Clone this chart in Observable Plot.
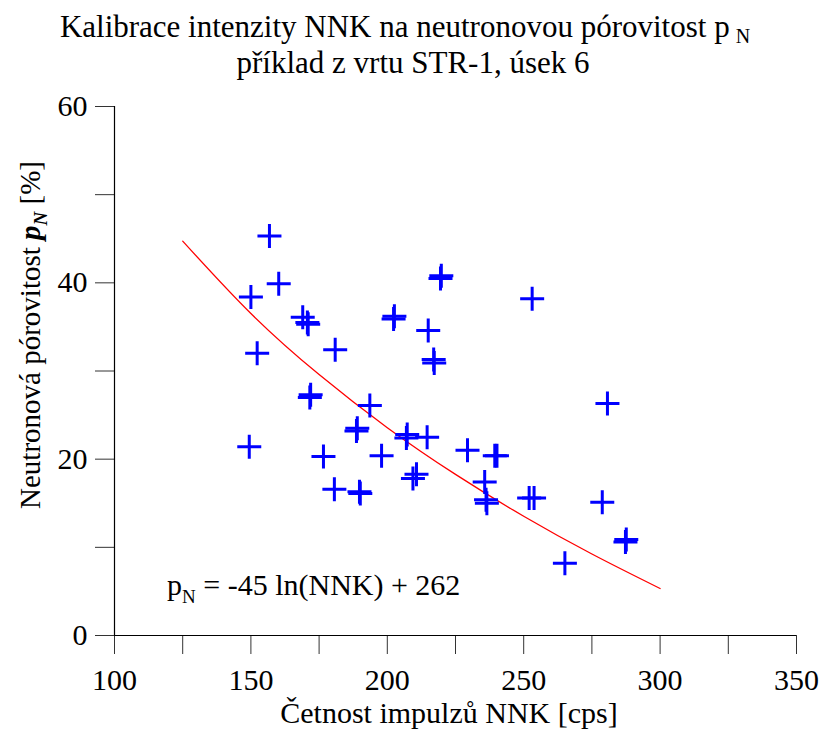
<!DOCTYPE html>
<html>
<head>
<meta charset="utf-8">
<script src="https://cdn.jsdelivr.net/npm/d3@7"></script>
<script src="https://cdn.jsdelivr.net/npm/@observablehq/plot@0.6"></script>
<style>
  html, body { margin: 0; padding: 0; background: #fff; }
  #chart svg { display: block; }
  #chart svg, #chart svg text, #chart svg tspan { font-family: "Liberation Serif", "Times New Roman", serif; }
</style>
</head>
<body>
<div id="chart"></div>
<script>
// Measured points: NNK count rate [cps] and neutron porosity p_N [%]
const nnk = [149.4, 150.0, 152.3, 156.8, 160.2, 169.0, 170.7, 171.0, 171.6, 171.9,
             176.6, 180.6, 180.9, 188.7, 189.0, 189.8, 190.1, 193.6, 197.9, 202.3,
             202.6, 207.3, 207.0, 209.4, 210.7, 214.6, 215.0, 217.2, 217.0, 219.5,
             219.8, 229.4, 235.7, 236.5, 236.2, 239.4, 240.2, 252.0, 253.8, 253.1,
             265.1, 278.8, 280.7, 287.3, 287.6];
const porosity = [21.4, 38.4, 32.0, 45.3, 39.9, 36.1, 35.5, 35.3, 27.0, 27.3,
                  20.3, 16.6, 32.4, 23.2, 23.5, 16.3, 16.1, 26.1, 20.4, 35.9,
                  36.2, 22.8, 22.4, 17.8, 18.3, 22.5, 34.6, 30.9, 31.3, 40.5,
                  40.8, 21.0, 17.4, 15.0, 15.4, 20.4, 20.4, 15.6, 15.6, 38.2,
                  8.2, 15.1, 26.3, 10.6, 10.9];

// Fitted curve (p_N = -45 ln(NNK) + 262)
const fitX = [125, 150, 175, 200, 225, 250, 275, 300];
const fitY = [44.73, 36.52, 29.59, 23.57, 18.27, 13.53, 9.24, 5.33];

// Ticks
const xTickAll = [100, 125, 150, 175, 200, 225, 250, 275, 300, 325, 350];
const xTickLabels = [100, 150, 200, 250, 300, 350];
const yTickAll = [0, 10, 20, 30, 40, 50, 60];
const yTickLabels = [0, 20, 40, 60];

const titleLine1 = "Kalibrace intenzity NNK na neutronovou pórovitost p";
const titleLine2 = "příklad z vrtu STR-1, úsek 6";
const xLabel = "Četnost impulzů NNK [cps]";
const yLabelPre = "Neutronová pórovitost ";
const equation = " = -45 ln(NNK) + 262";

const points = nnk.map((x, i) => ({x, y: porosity[i]}));
const fit = fitX.map((x, i) => ({x, y: fitY[i]}));

const plusSym = {
  draw(ctx, size) {
    const r = Math.sqrt(size / Math.PI);
    ctx.moveTo(-r, 0); ctx.lineTo(r, 0);
    ctx.moveTo(0, -r); ctx.lineTo(0, r);
  }
};

const FONT = "Liberation Serif, Times New Roman, serif";

const chart = Plot.plot({
  width: 820,
  height: 733,
  marginLeft: 114,
  marginRight: 24,
  marginTop: 106,
  marginBottom: 98,
  style: {fontFamily: FONT, fontSize: "30px", color: "#000", background: "#fff"},
  x: {domain: [100, 350], label: null},
  y: {domain: [0, 60], label: null},
  marks: [
    Plot.axisX({ticks: xTickAll, tickSize: 19, tickFormat: () => "", stroke: "#333", label: null}),
    Plot.axisX({ticks: xTickLabels, tickSize: 0, tickPadding: 33, fontSize: 30, label: null}),
    Plot.axisY({ticks: yTickAll, tickSize: 19, tickFormat: () => "", stroke: "#333", label: null}),
    Plot.axisY({ticks: yTickLabels, tickSize: 0, tickPadding: 27, fontSize: 30, label: null}),
    Plot.ruleX([100], {y1: 0, y2: 60, stroke: "#000", strokeWidth: 1.2}),
    Plot.ruleY([0], {x1: 100, x2: 350, stroke: "#000", strokeWidth: 1.2}),
    Plot.line(fit, {x: "x", y: "y", stroke: "#ff0000", strokeWidth: 1.3, curve: "natural"}),
    Plot.dot(points, {x: "x", y: "y", symbol: plusSym, r: 12, stroke: "#0000ff", strokeWidth: 3, fill: "none"})
  ]
});

document.getElementById("chart").appendChild(chart);

const svg = d3.select(chart);
const g = svg.append("g").attr("font-family", FONT).attr("fill", "#000").attr("text-anchor", "start");

// Title
const t1 = g.append("text").attr("x", 405).attr("y", 37).attr("text-anchor", "middle").attr("font-size", 31);
t1.append("tspan").text(titleLine1);
t1.append("tspan").attr("dx", 6).attr("dy", 6).attr("font-size", 20).text("N");
g.append("text").attr("x", 413).attr("y", 73).attr("text-anchor", "middle").attr("font-size", 31).text(titleLine2);

// X label
g.append("text").attr("x", 449).attr("y", 723).attr("text-anchor", "middle").attr("font-size", 30).text(xLabel);

// Y label
const yl = g.append("text").attr("transform", "translate(40,335) rotate(-90)").attr("text-anchor", "middle").attr("font-size", 29);
yl.append("tspan").text(yLabelPre);
yl.append("tspan").attr("font-weight", "bold").attr("font-style", "italic").text("p");
yl.append("tspan").attr("font-weight", "bold").attr("font-style", "italic").attr("font-size", 19).attr("dy", 7).text("N");
yl.append("tspan").attr("dy", -7).text(" [%]");

// Equation
const eq = g.append("text").attr("x", 167).attr("y", 595).attr("text-anchor", "start").attr("font-size", 30);
eq.append("tspan").text("p");
eq.append("tspan").attr("font-size", 19).attr("dy", 8).text("N");
eq.append("tspan").attr("dy", -8).text(equation);
</script>
</body>
</html>
